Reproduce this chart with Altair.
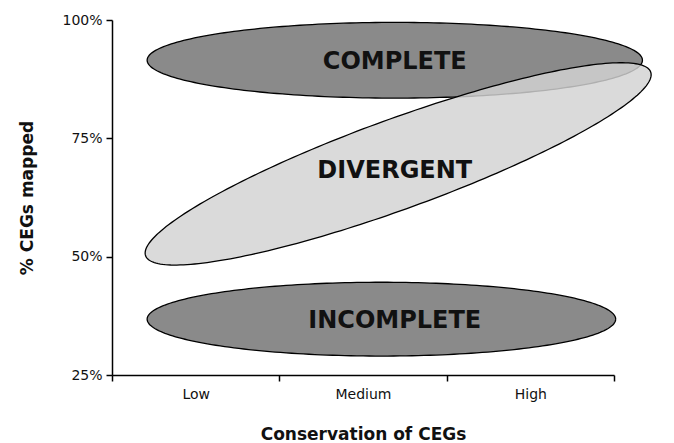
import altair as alt
import numpy as np
import pandas as pd

# ---- data ----
cat_labels = ["Low", "Medium", "High"]
cat_positions = [0.5, 1.5, 2.5]
band_edges = [0, 1, 2, 3]
y_ticks = [25, 50, 75, 100]

ellipse_names = ["COMPLETE", "DIVERGENT", "INCOMPLETE"]
center_x = [1.69, 1.71, 1.61]        # conservation units (0..3)
center_y = [91.5, 69.6, 36.8]        # % CEGs mapped
semi_x = [1.48, 1.606, 1.40]         # semi-axis along x (conservation units)
semi_y = [8.0, 9.5, 7.8]             # semi-axis along y (% units)
tilt_deg = [0.0, 20.0, 0.0]
fills = ["#8a8a8a", "#d2d2d2", "#8a8a8a"]
fill_opac = [1.0, 0.83, 1.0]

label_x = [1.69, 1.69, 1.69]
label_y = [91.1, 68.1, 36.5]

W, H = 502, 355
px_x = W / 3.0
px_y = H / 75.0


def outline(cx, cy, rx, ry, ang):
    t = np.linspace(0, 2 * np.pi, 241)
    a = rx * px_x
    b = ry * px_y
    th = np.radians(ang)
    dx = a * np.cos(t) * np.cos(th) - b * np.sin(t) * np.sin(th)
    dy = a * np.cos(t) * np.sin(th) + b * np.sin(t) * np.cos(th)
    return pd.DataFrame({"x": cx + dx / px_x, "y": cy + dy / px_y, "o": np.arange(len(t))})


xscale = alt.Scale(domain=[0, 3], nice=False, zero=False)
yscale = alt.Scale(domain=[25, 100], nice=False, zero=False)

label_map = " : ".join(
    f"datum.value == {p} ? '{l}'" for p, l in zip(cat_positions, cat_labels)
) + " : ''"

x_axis = alt.Axis(
    values=sorted(band_edges + cat_positions),
    labelExpr=label_map,
    tickOpacity={"condition": {"test": "datum.value % 1 != 0", "value": 0}, "value": 1},
    title="Conservation of CEGs",
    titleFontSize=17, titleFontWeight="bold", titleFont="DejaVu Sans", titlePadding=25,
    titleColor="#111",
    labelFont="DejaVu Sans", labelFontSize=14, labelColor="#111", labelPadding=6,
    tickSize=6, tickColor="black", tickWidth=1.5,
    domainColor="black", domainWidth=1.5, grid=False, labelAngle=0,
)
y_axis = alt.Axis(
    values=y_ticks,
    labelExpr="datum.value + '%'",
    title="% CEGs mapped",
    titleFontSize=17, titleFontWeight="bold", titleFont="DejaVu Sans", titlePadding=25,
    titleColor="#111",
    labelFont="DejaVu Sans", labelFontSize=14, labelColor="#111", labelPadding=4,
    tickSize=6, tickColor="black", tickWidth=1.5,
    domainColor="black", domainWidth=1.5, grid=False,
)

X = alt.X("x:Q", scale=xscale, axis=x_axis)
Y = alt.Y("y:Q", scale=yscale, axis=y_axis)

layers = []
for i, name in enumerate(ellipse_names):
    df = outline(center_x[i], center_y[i], semi_x[i], semi_y[i], tilt_deg[i])
    layers.append(
        alt.Chart(df).mark_line(
            fill=fills[i], fillOpacity=fill_opac[i], stroke="black", strokeWidth=1.3
        ).encode(x=X, y=Y, order="o:Q")
    )

labels_df = pd.DataFrame({"name": ellipse_names, "x": label_x, "y": label_y})
text = alt.Chart(labels_df).mark_text(
    font="DejaVu Sans", fontSize=24, fontWeight="bold", color="#111"
).encode(x=X, y=Y, text="name:N")

chart = alt.layer(*layers, text).properties(
    width=W, height=H, background="white",
    padding={"left": 10, "top": 5, "right": 5, "bottom": 0},
).configure_view(stroke=None)

chart.save("out.html", embed_options={"renderer": "svg", "actions": False})
